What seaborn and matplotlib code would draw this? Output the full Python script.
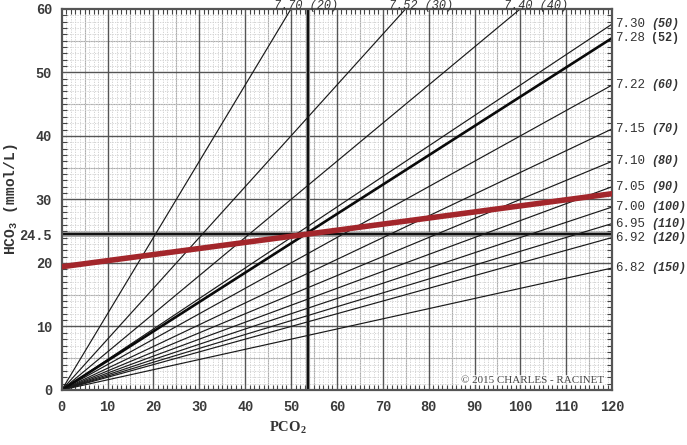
import matplotlib
matplotlib.use("Agg")
import matplotlib.pyplot as plt
import matplotlib.transforms as mtransforms
from matplotlib.ticker import MultipleLocator, FixedLocator
import numpy as np
import pandas as pd
import seaborn as sns

# ---- data ----
# iso-pH lines ending on the right edge (PCO2 = 120): HCO3 at the end
right_ph = ["7.30", "7.28", "7.22", "7.15", "7.10", "7.05", "7.00", "6.95", "6.92", "6.82"]
right_h = ["(50)", "(52)", "(60)", "(70)", "(80)", "(90)", "(100)", "(110)", "(120)", "(150)"]
right_end_pco2 = [120, 120, 120, 120, 120, 120, 120, 120, 120, 120]
right_end_hco3 = [57.6, 55.4, 48.0, 41.1, 36.0, 32.0, 28.8, 26.2, 24.0, 19.2]

# iso-pH lines ending on the top edge (HCO3 = 60): PCO2 at the end
top_ph = ["7.70", "7.52", "7.40"]
top_h = ["(20)", "(30)", "(40)"]
top_end_pco2 = [50, 75, 100]
top_end_hco3 = [60, 60, 60]

# buffer line (red)
buffer_pco2 = [0, 120]
buffer_hco3 = [19.4, 30.9]

# reference point
ref_pco2 = 53.6
ref_hco3 = 24.5

xticks = [0, 10, 20, 30, 40, 50, 60, 70, 80, 90, 100, 110, 120]
yticks = [0, 10, 20, 24.5, 30, 40, 50, 60]
ytick_labels = ["0", "10", "20", "24.5", "30", "40", "50", "60"]

# ---- build long table ----
rows = []
for i, (px, hy) in enumerate(zip(top_end_pco2, top_end_hco3)):
    rows += [dict(line=f"t{i}", pco2=0, hco3=0), dict(line=f"t{i}", pco2=px, hco3=hy)]
for i, (px, hy) in enumerate(zip(right_end_pco2, right_end_hco3)):
    rows += [dict(line=f"r{i}", pco2=0, hco3=0), dict(line=f"r{i}", pco2=px, hco3=hy)]
df = pd.DataFrame(rows)
bold_line = "r1"

sns.set_style("white")
mono = ["Liberation Mono", "DejaVu Sans Mono"]
serif = ["Liberation Serif", "DejaVu Serif"]

fig = plt.figure(figsize=(6.87, 4.45), dpi=100)
ax = fig.add_axes([0.0898, 0.1236, 0.8012, 0.8566])
ax.set_xlim(0, 120)
ax.set_ylim(0, 60)

# grids
ax.xaxis.set_major_locator(FixedLocator(xticks))
ax.yaxis.set_major_locator(FixedLocator(yticks))
ax.xaxis.set_minor_locator(MultipleLocator(1))
ax.yaxis.set_minor_locator(MultipleLocator(1))
ax.grid(which="minor", color="#cfcfcf", lw=0.6, ls=(0, (1.5, 1.5)), zorder=0)
for v in np.arange(5, 120, 10):
    ax.axvline(v, color="#ababab", lw=0.8, zorder=0.5)
for v in np.arange(5, 60, 10):
    ax.axhline(v, color="#ababab", lw=0.8, zorder=0.5)
for v in np.arange(10, 120, 10):
    ax.axvline(v, color="#555555", lw=1.0, zorder=0.6)
for v in np.arange(10, 60, 10):
    ax.axhline(v, color="#555555", lw=1.0, zorder=0.6)

# reference cross lines
ax.axhline(ref_hco3, color="#9a9a9a", lw=3.4, zorder=1)
ax.axhline(ref_hco3, color="#111111", lw=1.6, zorder=1.1)
ax.axvline(ref_pco2, color="#9a9a9a", lw=3.0, zorder=1)
ax.axvline(ref_pco2, color="#111111", lw=1.6, zorder=1.1)

# iso-pH lines
thin = df[df["line"] != bold_line]
sns.lineplot(data=thin, x="pco2", y="hco3", units="line", estimator=None,
             color="#1a1a1a", lw=0.85, ax=ax, zorder=2, legend=False)
sns.lineplot(data=df[df["line"] == bold_line], x="pco2", y="hco3",
             color="#0a0a0a", lw=1.9, ax=ax, zorder=2.1, legend=False)

# buffer line
sns.lineplot(x=buffer_pco2, y=buffer_hco3, color="#a3262b", lw=4.0, ax=ax,
             zorder=3, legend=False)

# spines & ticks
for s in ax.spines.values():
    s.set_color("#555555")
    s.set_linewidth(1.6)
ax.tick_params(which="minor", direction="in", length=3.5, width=0.8, color="#444444",
               top=True, right=True, bottom=True, left=True)
ax.tick_params(which="major", length=0, pad=7)
ax.set_yticklabels(ytick_labels)
for lab in ax.get_xticklabels() + ax.get_yticklabels():
    lab.set_fontfamily(mono)
    lab.set_fontweight("bold")
    lab.set_fontsize(9.8)
    lab.set_color("#3a3a3a")

ax.set_xlabel("PCO$_\\mathregular{2}$", fontfamily=serif, fontweight="bold",
              fontsize=10.5, color="#333333")
ax.xaxis.set_label_coords(0.41, -0.078)
ax.set_ylabel("HCO$_\\mathregular{3}$ (mmol/L)", fontfamily=mono, fontweight="bold",
              fontsize=10.5, color="#333333")
ax.yaxis.set_label_coords(-0.075, 0.5)

# right labels
trans_r = mtransforms.blended_transform_factory(ax.transAxes, ax.transData)
for ph, h, y in zip(right_ph, right_h, right_end_hco3):
    ax.text(1.006, y, ph, transform=trans_r, ha="left", va="center",
            fontfamily=mono, fontsize=9.0, color="#333333", clip_on=False)
    ax.text(1.071, y, h, transform=trans_r, ha="left", va="center",
            fontfamily=mono, fontsize=8.5, fontweight="bold",
            fontstyle="normal" if h == "(52)" else "italic",
            color="#333333", clip_on=False)

# top labels (kept just inside the figure's top edge)
for ph, h, x in zip(top_ph, top_h, top_end_pco2):
    ax.annotate(f"{ph} {h}", xy=(x, 0.999), xycoords=("data", "figure fraction"),
                xytext=(11, 0), textcoords="offset points",
                ha="center", va="top", fontfamily=mono, fontsize=8.6,
                fontstyle="italic", color="#333333", annotation_clip=False)

ax.text(0.985, 0.014, "© 2015 CHARLES - RACINET", transform=ax.transAxes,
        ha="right", va="bottom", fontfamily=serif, fontsize=7.9, color="#444444",
        bbox=dict(facecolor="white", edgecolor="none", alpha=0.75, pad=0.5), zorder=5)

fig.savefig("out.png", dpi=100)
